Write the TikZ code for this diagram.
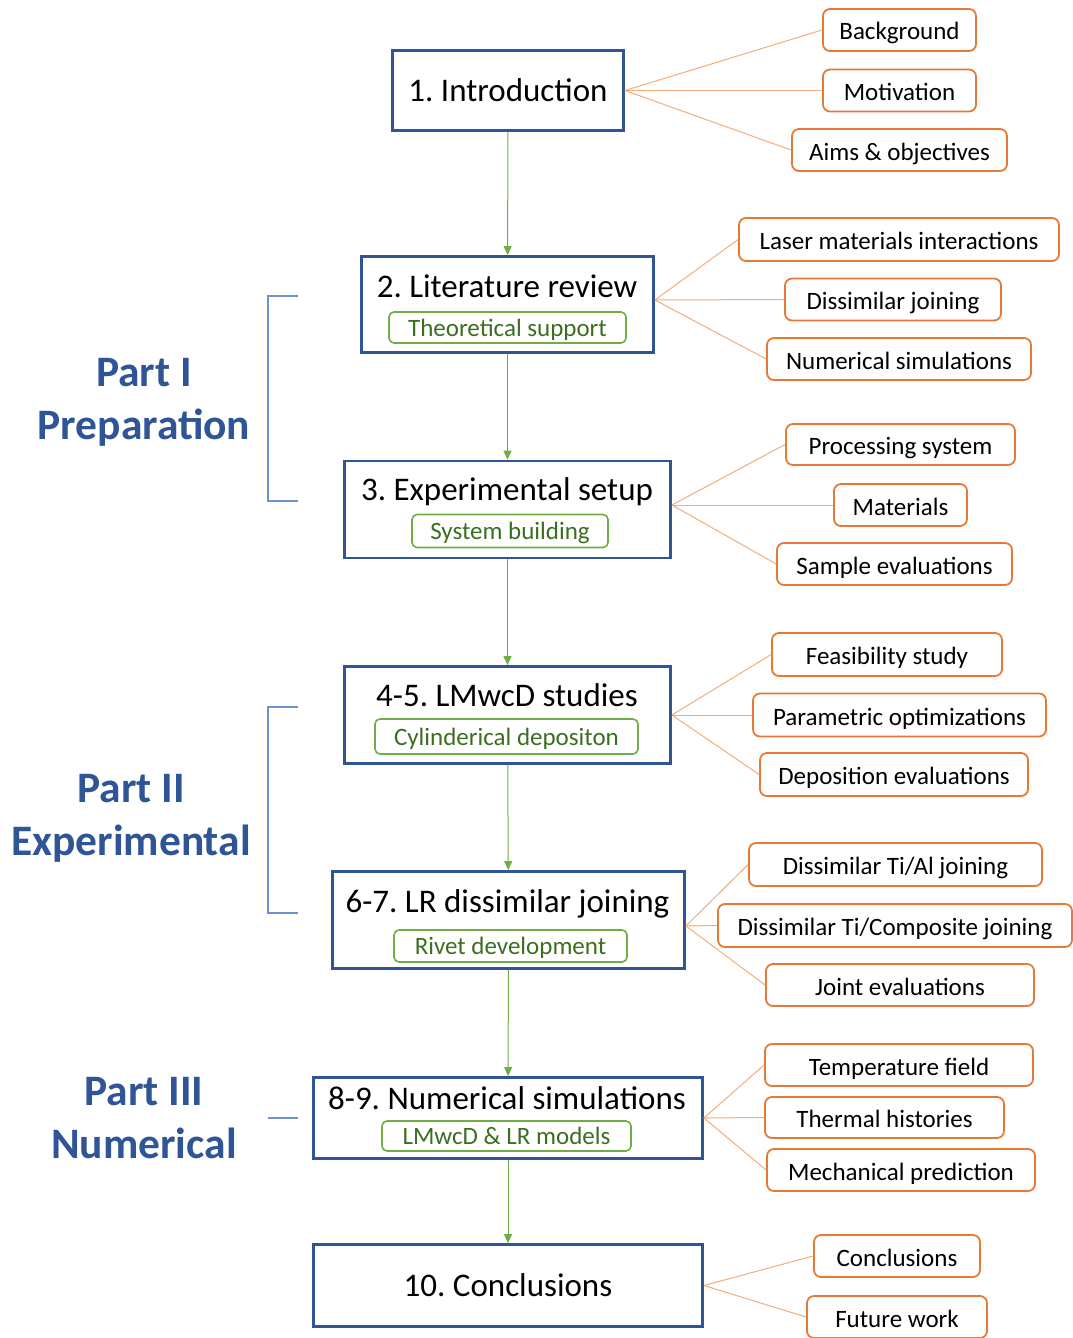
\documentclass[tikz,border=0pt]{standalone}
\usepackage{fontspec}
\setmainfont{Carlito}
\usetikzlibrary{arrows.meta}
\frenchspacing

\definecolor{chapblue}{HTML}{2F5597}
\definecolor{bracketblue}{HTML}{6F90D0}
\definecolor{flowgreen}{HTML}{70AD47}
\definecolor{subtext}{HTML}{3A6F20}
\definecolor{topicorange}{HTML}{E57A35}
\definecolor{linkorange}{HTML}{F4AC7A}

\begin{document}
\begin{tikzpicture}[x=1pt,y=-1pt,
  chapter/.style={draw=chapblue, line width=2.8pt, inner sep=0pt,
    font=\fontsize{33}{38}\selectfont, text height=22.4pt, text depth=0pt},
  title/.style={font=\fontsize{33}{38}\selectfont, inner sep=0pt, anchor=base},
  support/.style={draw=flowgreen, line width=1.6pt, rounded corners=5pt, text=subtext,
    font=\fontsize{25}{29}\selectfont, inner sep=0pt, text height=18pt, text depth=1pt},
  topic/.style={draw=topicorange, line width=1.8pt, rounded corners=7pt,
    font=\fontsize{25}{29}\selectfont, inner sep=0pt, text height=20pt, text depth=0pt},
  flow/.style={draw=flowgreen, line width=1pt, -{Triangle[length=9pt,width=8pt]}},
  link/.style={draw=linkorange, line width=1pt},
  bracket/.style={draw=bracketblue, line width=1.2pt},
  part/.style={text=chapblue, font=\bfseries\fontsize{43.5}{53}\selectfont, align=center}]
  \useasboundingbox (0,0) rectangle (1072,1338);

  % chapters
  \node[chapter, minimum width=231pt, minimum height=80pt] (intro) at (508,90.5) {1. Introduction};
  \node[chapter, minimum width=292pt, minimum height=96pt] (lit) at (507.5,304.5) {};
  \node[title] (littitle) at (507,297) {2. Literature review};
  \node[support, minimum width=237pt, minimum height=31pt] (litsup) at (507.5,327.5) {Theoretical support};
  \node[chapter, minimum width=326pt, minimum height=97pt] (exp) at (507.5,509.5) {};
  \node[title] (exptitle) at (507,500) {3. Experimental setup};
  \node[support, minimum width=196pt, minimum height=33pt] (expsup) at (510,531) {System building};
  \node[chapter, minimum width=326pt, minimum height=97pt] (lmd) at (507.5,715) {};
  \node[title] (lmdtitle) at (507,706.5) {4-5. LMwcD studies};
  \node[support, minimum width=263pt, minimum height=35pt] (lmdsup) at (506.5,736.5) {Cylinderical depositon};
  \node[chapter, minimum width=352pt, minimum height=97pt] (lrj) at (508.5,920) {};
  \node[title] (lrjtitle) at (507.5,912) {6-7. LR dissimilar joining};
  \node[support, minimum width=233pt, minimum height=32pt] (lrjsup) at (510.5,946) {Rivet development};
  \node[chapter, minimum width=389pt, minimum height=81pt] (num) at (508,1118) {};
  \node[title] (numtitle) at (507,1109.5) {8-9. Numerical simulations};
  \node[support, minimum width=249pt, minimum height=30pt] (numsup) at (506.5,1136) {LMwcD \& LR models};
  \node[chapter, minimum width=389pt, minimum height=82pt] (concl) at (508,1285.5) {10. Conclusions};

  \draw[flow] (intro) -- (lit);
  \draw[flow] (lit) -- (exp);
  \draw[flow] (exp) -- (lmd);
  \draw[flow] (lmd) -- (lrj);
  \draw[flow] (lrj) -- (num);
  \draw[flow] (num) -- (concl);

  % where the topic links leave the chapter boxes
  \coordinate (litout) at ([yshift=4.5pt]lit.east);
  \coordinate (expout) at ([yshift=4.5pt]exp.east);
  \coordinate (lrjout) at ([yshift=-6pt]lrj.east);

  % topics
  \node[topic, minimum width=153pt, minimum height=42pt] (background) at (899.5,30) {Background};
  \node[topic, minimum width=153pt, minimum height=42pt] (motivation) at (899.5,90.5) {Motivation};
  \node[topic, minimum width=215pt, minimum height=42pt] (aims) at (899.5,150) {Aims \& objectives};
  \node[topic, minimum width=320pt, minimum height=43pt] (laser) at (899,239.5) {Laser materials interactions};
  \node[topic, minimum width=216pt, minimum height=42pt] (dissim) at (893,299.5) {Dissimilar joining};
  \node[topic, minimum width=264pt, minimum height=42pt] (numsim) at (899,359) {Numerical simulations};
  \node[topic, minimum width=229pt, minimum height=41pt] (processing) at (900.5,444.5) {Processing system};
  \node[topic, minimum width=133pt, minimum height=42pt] (materials) at (900.5,505) {Materials};
  \node[topic, minimum width=235pt, minimum height=42pt] (sample) at (894.5,564) {Sample evaluations};
  \node[topic, minimum width=230pt, minimum height=43pt] (feasibility) at (887,654.5) {Feasibility study};
  \node[topic, minimum width=293pt, minimum height=43pt] (parametric) at (899.5,715) {Parametric optimizations};
  \node[topic, minimum width=268pt, minimum height=43pt] (deposition) at (894,774.5) {Deposition evaluations};
  \node[topic, minimum width=293pt, minimum height=43pt] (tial) at (895.5,864.5) {Dissimilar Ti/Al joining};
  \node[topic, minimum width=354pt, minimum height=43pt] (ticomp) at (895,925.5) {Dissimilar Ti/Composite joining};
  \node[topic, minimum width=268pt, minimum height=42pt] (joint) at (900,985) {Joint evaluations};
  \node[topic, minimum width=268pt, minimum height=42pt] (temperature) at (899,1065) {Temperature field};
  \node[topic, minimum width=239pt, minimum height=41pt] (thermal) at (884.5,1117.5) {Thermal histories};
  \node[topic, minimum width=268pt, minimum height=42pt] (mechanical) at (901,1170) {Mechanical prediction};
  \node[topic, minimum width=166pt, minimum height=42pt] (conclusions) at (897,1256) {Conclusions};
  \node[topic, minimum width=180pt, minimum height=42pt] (future) at (897,1317) {Future work};

  \draw[link] (intro.east) -- (background.west);
  \draw[link] (intro.east) -- (motivation.west);
  \draw[link] (intro.east) -- (aims.west);
  \draw[link] (litout) -- (laser.west);
  \draw[link] (litout) -- (dissim.west);
  \draw[link] (litout) -- (numsim.west);
  \draw[link] (expout) -- (processing.west);
  \draw[link] (expout) -- (materials.west);
  \draw[link] (expout) -- (sample.west);
  \draw[link] (lmd.east) -- (feasibility.west);
  \draw[link] (lmd.east) -- (parametric.west);
  \draw[link] (lmd.east) -- (deposition.west);
  \draw[link] (lrjout) -- (tial.west);
  \draw[link] (lrjout) -- (ticomp.west);
  \draw[link] (lrjout) -- (joint.west);
  \draw[link] (num.east) -- (temperature.west);
  \draw[link] (num.east) -- (thermal.west);
  \draw[link] (num.east) -- (mechanical.west);
  \draw[link] (concl.east) -- (conclusions.west);
  \draw[link] (concl.east) -- (future.west);

  % parts
  \node[part] (part1) at (144,402) {Part I\\Preparation};
  \node[part] (part2) at (131,818.5) {Part II\\Experimental};
  \node[part] (part3) at (144,1118.5) {Part III\\Numerical};
  \draw[bracket] (298,296) -| (268,501) -- (298,501);
  \draw[bracket] (298,707) -| (268,913) -- (298,913);
  \draw[bracket] (268,1118) -- (298,1118);
\end{tikzpicture}
\end{document}
